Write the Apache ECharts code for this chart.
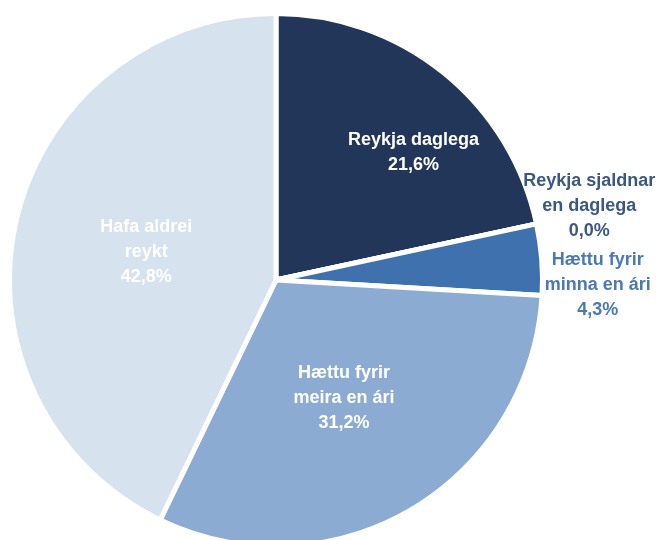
<!DOCTYPE html>
<html>
<head>
<meta charset="utf-8">
<script src="https://cdn.jsdelivr.net/npm/echarts@6/dist/echarts.min.js"></script>
<style>
html,body{margin:0;padding:0;background:#fff;}
#chart{width:658px;height:540px;}
</style>
</head>
<body>
<div id="chart"></div>
<script>
const categories = ['Reykja daglega', 'Reykja sjaldnar\nen daglega', 'Hættu fyrir\nminna en ári', 'Hættu fyrir\nmeira en ári', 'Hafa aldrei\nreykt'];
const values = [21.6, 0.0, 4.3, 31.2, 42.8];
const sliceColors = ['#213659', '#213659', '#3f71ae', '#8cabd3', '#d6e2ee'];
const labelColors = ['#ffffff', '#3b5782', '#4a79b5', '#ffffff', '#ffffff'];
const outsideLabel = [false, true, true, false, false];
const labelShift = [[52, -21], [38, -16], [41, 26], [-1, 1], [3, 2]];

const fontFamily = '"Liberation Sans Narrow", "Arial Narrow", "Liberation Sans", Arial, sans-serif';

const data = categories.map((c, i) => ({
  name: c,
  value: values[i],
  itemStyle: { color: sliceColors[i] },
  label: {
    position: outsideLabel[i] ? 'outside' : 'inside',
    color: labelColors[i]
  },
  labelLine: { show: false }
}));

const chart = echarts.init(document.getElementById('chart'), null, { renderer: 'canvas' });
chart.setOption({
  animation: false,
  backgroundColor: '#ffffff',
  series: [{
    type: 'pie',
    center: [276, 280],
    radius: 266.5,
    startAngle: 90,
    clockwise: true,
    avoidLabelOverlap: false,
    minShowLabelAngle: 0,
    stillShowZeroSum: true,
    itemStyle: { borderColor: '#ffffff', borderWidth: 5 },
    label: {
      show: true,
      fontFamily: fontFamily,
      fontSize: 18,
      fontWeight: 'bold',
      lineHeight: 25,
      align: 'center',
      formatter: p => p.name + '\n' + values[p.dataIndex].toFixed(1).replace('.', ',') + '%'
    },
    labelLine: { show: false, length: 10, length2: 0 },
    labelLayout: function (params) {
      const s = labelShift[params.dataIndex];
      return { dx: s[0], dy: s[1], align: 'center', verticalAlign: 'middle' };
    },
    emphasis: { disabled: true },
    data: data
  }]
});
</script>
</body>
</html>
